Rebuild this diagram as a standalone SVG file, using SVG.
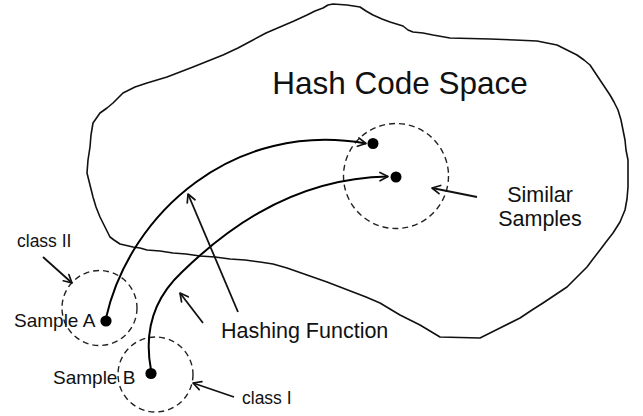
<svg xmlns="http://www.w3.org/2000/svg" width="643" height="416" viewBox="0 0 643 416">
  <style>
    .outline { fill: none; stroke: #111; stroke-width: 1.6; stroke-linejoin: round; }
    .cluster { fill: none; stroke: #222; stroke-width: 1.4; stroke-dasharray: 6 4; }
    .dot { fill: #000; }
    .label { font-family: "Liberation Sans", Arial, sans-serif; fill: #111; }
    .curve { fill: none; stroke: #000; stroke-width: 2; marker-end: url(#arrow); }
    .pointer { fill: none; stroke: #111; stroke-width: 1.8; marker-end: url(#arrow); }
  </style>
  <defs>
    <marker id="arrow" viewBox="-10 -6 12 12" refX="0" refY="0" markerWidth="12" markerHeight="12" markerUnits="userSpaceOnUse" orient="auto">
      <path d="M-8,-4.2 L0,0 L-8,4.2" fill="none" stroke="#111" stroke-width="1.7" stroke-linecap="round" stroke-linejoin="round"/>
    </marker>
  </defs>

  <rect width="643" height="416" fill="#fff"/>

  <!-- hand-drawn region of the code space -->
  <g id="hash-code-space">
    <path class="outline" d="M333,4 L347,5 L360,7 L366,11 L373,15 L382,19 L390,22 L403,26 L408,30 L413,32 L423,33 L433,35 L450,38 L470,38.5 L490,39 L515,40 L537,41 L547,43 L557,45 L567,50 L577,55 L584,60 L590,65 L594,71 L598,77 L604,86 L610,95 L614,102 L618,110 L621,120 L623,130 L625,140 L626,150 L628,160 L628,170 L628,187 L627,199 L625,210 L620,222 L613,233 L606,242 L600,250 L593,259 L587,267 L577,277 L567,287 L555,295 L543,303 L532,310 L520,318 L500,328 L480,338 L460,337.5 L440,337 L430,331 L420,325 L410,320 L400,315 L390,309 L380,303 L366,297 L353,292 L340,287 L327,282 L307,275 L287,268 L273,264 L260,262 L245,260 L230,259 L215,257 L200,256 L186,254 L173,253 L160,251 L147,250 L140,248 L133,247 L120,244 L114,240 L110,237 L105,227 L100,217 L96,207 L93,197 L90,185 L87,173 L88,160 L90,147 L91,135 L93,123 L100,113 L107,108 L113,103 L118,98 L123,93 L135,87 L147,83 L157,80 L167,77 L180,72 L193,67 L208,61 L223,55 L238,48 L253,40 L266,33 L280,27 L294,21 L307,15 L315,11 L323,8 L328,5 Z"/>
    <text class="label" x="400" y="94" font-size="31.5" text-anchor="middle">Hash Code Space</text>
  </g>

  <g id="class-ii">
    <circle class="cluster" cx="99.5" cy="308" r="37.5"/>
    <text class="label" x="17" y="247" font-size="17.5">class II</text>
  </g>

  <g id="class-i">
    <circle class="cluster" cx="155.5" cy="374.5" r="37.5"/>
    <text class="label" x="242" y="404" font-size="17.5">class I</text>
  </g>

  <g id="sample-a">
    <circle class="dot" cx="106" cy="321" r="5.6"/>
    <text class="label" x="14" y="327" font-size="19">Sample A</text>
  </g>

  <g id="sample-b">
    <circle class="dot" cx="151" cy="373.5" r="5.6"/>
    <text class="label" x="53" y="383.5" font-size="19">Sample B</text>
  </g>

  <g id="similar-samples">
    <circle class="cluster" cx="396" cy="176" r="52.5"/>
    <circle class="dot" cx="373" cy="143.5" r="5.5"/>
    <circle class="dot" cx="396" cy="177" r="5.5"/>
    <text class="label" x="540" y="201.5" font-size="21.5" text-anchor="middle">Similar</text>
    <text class="label" x="540" y="226" font-size="21.5" text-anchor="middle">Samples</text>
  </g>

  <g id="hashing-function">
    <text class="label" x="221" y="338" font-size="21.5">Hashing Function</text>
  </g>

  <g id="connectors">
    <!-- mappings of the two samples into the code space -->
    <path class="curve" d="M106,318 C130,212 235,120 366,143.5"/>
    <path class="curve" d="M151,370 C144,333 152,300 182,272 C215,240 285,178 388,176.5"/>
    <!-- label pointers -->
    <path class="pointer" d="M238,312 L188,194"/>
    <path class="pointer" d="M203,323 L180,293"/>
    <path class="pointer" d="M43,257 L72,283"/>
    <path class="pointer" d="M234,397 L193,383"/>
    <path class="pointer" d="M477,197 L432,188"/>
  </g>
</svg>
